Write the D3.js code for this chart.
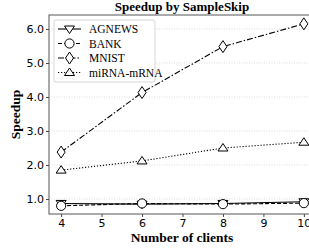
<!DOCTYPE html>
<html lang="en">
<head>
<meta charset="UTF-8">
<title>Speedup by SampleSkip</title>
<script src="https://cdn.jsdelivr.net/npm/d3@7/dist/d3.min.js"></script>
<style>
  body { margin: 0; background: #fff; }
  svg { display: block; }
</style>
</head>
<body>
<div id="chart"></div>
<script>
const clients = [4, 6, 8, 10]
const agnews = [0.87, 0.85, 0.87, 0.92]
const bank = [0.80, 0.87, 0.85, 0.88]
const mnist = [2.38, 4.13, 5.48, 6.15]
const mirna = [1.85, 2.12, 2.50, 2.67]
const xTicks = [4, 5, 6, 7, 8, 9, 10]
const yTicks = [1, 2, 3, 4, 5, 6]

const w = 309
const h = 248
const padLeft = 49, padTop = 15, plotRight = 316, plotBottom = 214

const series = [
  {name: "AGNEWS", values: agnews, dash: null, marker: "down"},
  {name: "BANK", values: bank, dash: "4,2", marker: "circle"},
  {name: "MNIST", values: mnist, dash: "6,2,1.5,2", marker: "diamond"},
  {name: "miRNA-mRNA", values: mirna, dash: "1.2,1.8", marker: "up"}
]

const svg = d3.select("#chart").append("svg")
  .attr("width", w).attr("height", h)

const xScale = d3.scaleLinear().domain([3.7, 10.3]).range([padLeft, plotRight])
const yScale = d3.scaleLinear().domain([0.56, 6.41]).range([plotBottom, padTop])

// grid
svg.append("g").selectAll("line").data(yTicks).enter().append("line")
  .attr("x1", padLeft).attr("x2", plotRight)
  .attr("y1", d => yScale(d)).attr("y2", d => yScale(d))
  .attr("stroke", "#d0d0d0").attr("stroke-width", 0.8)
  .attr("stroke-dasharray", "1,1.5")

// axes
const xAxis = d3.axisBottom(xScale).tickValues(xTicks).tickFormat(d3.format("d")).tickSize(3).tickPadding(2)
const yAxis = d3.axisLeft(yScale).tickValues(yTicks).tickFormat(d3.format(".1f")).tickSize(3).tickPadding(2)

const gx = svg.append("g").attr("transform", `translate(0,${plotBottom})`).call(xAxis)
const gy = svg.append("g").attr("transform", `translate(${padLeft},0)`).call(yAxis)
;[gx, gy].forEach(g => {
  g.select(".domain").remove()
  g.selectAll("line").attr("stroke", "#444")
  g.selectAll("text").attr("fill", "#000")
    .style("font-family", "DejaVu Sans").style("font-size", "11px")
})

// frame
svg.append("rect")
  .attr("x", padLeft).attr("y", padTop)
  .attr("width", plotRight - padLeft).attr("height", plotBottom - padTop)
  .attr("fill", "none").attr("stroke", "#555").attr("stroke-width", 1)

function markerPath(type, cx, cy) {
  const r = 5
  if (type === "down") return `M${cx - r},${cy - r * 0.6}L${cx + r},${cy - r * 0.6}L${cx},${cy + r * 0.9}Z`
  if (type === "up") return `M${cx - r},${cy + r * 0.6}L${cx + r},${cy + r * 0.6}L${cx},${cy - r * 0.9}Z`
  return `M${cx},${cy - 6}L${cx + 4},${cy}L${cx},${cy + 6}L${cx - 4},${cy}Z`
}

function drawMarker(g, type, cx, cy) {
  if (type === "circle") {
    g.append("circle").attr("cx", cx).attr("cy", cy).attr("r", 4.6)
      .attr("fill", "#fff").attr("stroke", "#000").attr("stroke-width", 1)
  } else {
    g.append("path").attr("d", markerPath(type, cx, cy))
      .attr("fill", "#fff").attr("stroke", "#000").attr("stroke-width", 1)
  }
}

const line = d3.line().x((d, i) => xScale(clients[i])).y(d => yScale(d))

series.forEach(s => {
  const g = svg.append("g")
  g.append("path").attr("d", line(s.values))
    .attr("fill", "none").attr("stroke", "#000").attr("stroke-width", 1.1)
    .attr("stroke-dasharray", s.dash)
  s.values.forEach((v, i) => drawMarker(g, s.marker, xScale(clients[i]), yScale(v)))
})

// legend
const leg = svg.append("g")
leg.append("rect").attr("x", 54).attr("y", 20).attr("width", 101).attr("height", 62)
  .attr("rx", 2).attr("fill", "#fff").attr("fill-opacity", 0.85)
  .attr("stroke", "#ccc").attr("stroke-width", 0.8)
series.forEach((s, i) => {
  const y = 29 + i * 14.5
  leg.append("line").attr("x1", 58).attr("x2", 81).attr("y1", y).attr("y2", y)
    .attr("stroke", "#000").attr("stroke-width", 1.1).attr("stroke-dasharray", s.dash)
  drawMarker(leg, s.marker, 69.5, y)
  leg.append("text").attr("x", 89).attr("y", y + 4)
    .style("font-family", "Liberation Serif").style("font-size", "11.5px")
    .text(s.name)
})

// labels
svg.append("text").attr("x", 182).attr("y", 11).attr("text-anchor", "middle")
  .style("font-family", "Liberation Serif").style("font-weight", "bold").style("font-size", "13px")
  .text("Speedup by SampleSkip")
svg.append("text").attr("x", 182).attr("y", 242).attr("text-anchor", "middle")
  .style("font-family", "Liberation Serif").style("font-weight", "bold").style("font-size", "13.5px")
  .text("Number of clients")
svg.append("text").attr("transform", `translate(20,${(padTop + plotBottom) / 2}) rotate(-90)`)
  .attr("text-anchor", "middle")
  .style("font-family", "Liberation Serif").style("font-weight", "bold").style("font-size", "13.5px")
  .text("Speedup")
</script>
</body>
</html>
